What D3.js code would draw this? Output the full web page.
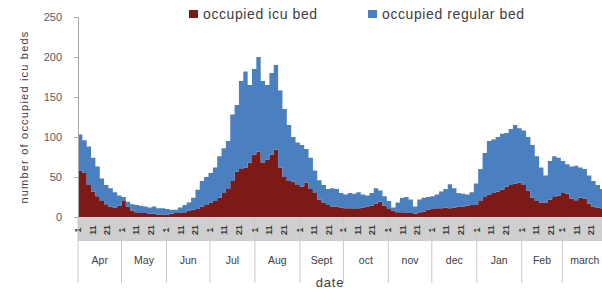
<!DOCTYPE html>
<html>
<head>
<meta charset="utf-8">
<title>occupied beds</title>
<script src="https://cdn.jsdelivr.net/npm/d3@7"></script>
<style>
    body{
        margin:0;
        background:#fff;
        font-family:"Liberation Sans", Arial, sans-serif;
    }
    .axis text{
        fill:#595959;
    }
</style>
</head>
<body>
<div id="chart"></div>
<script>
    // values read every 3 days, starting 1 Apr 2020
    var icuBeds = [58,55,40,32,26,20,16,13,12,14,20,13,8,6,5,5,4,4,3,3,3,4,5,5,6,8,9,10,13,15,
        18,20,24,30,35,45,57,60,62,68,78,82,68,72,78,84,62,50,45,44,40,38,43,35,30,22,18,15,13,13,
        12,11,11,10,11,12,13,14,17,19,14,10,8,6,6,5,5,4,6,7,9,10,11,11,12,11,12,13,13,14,
        15,15,20,25,28,30,32,34,38,40,42,43,40,33,24,20,18,18,22,25,27,30,29,23,21,24,23,17,13,12,11,10]
    var regularBeds = [45,41,48,42,37,28,24,23,19,13,5,6,8,9,9,8,8,9,8,8,7,5,4,7,9,10,15,24,32,35,
        37,42,52,56,60,83,83,110,120,97,107,118,102,93,102,106,96,85,70,56,53,52,42,39,28,24,22,20,23,22,
        18,17,19,19,20,16,14,16,19,14,12,10,4,12,18,20,17,9,16,17,16,16,17,21,23,30,24,17,16,14,
        16,27,40,55,67,67,68,70,67,70,73,68,68,67,66,56,44,34,48,51,47,40,37,40,43,38,37,35,32,28,24,23]
    var seriesNames = ["occupied icu bed","occupied regular bed"]
    var colors = ["#7b1a16","#4a7fc0"]
    var monthNames = ["Apr","May","Jun","Jul","Aug","Sept","oct","nov","dec","Jan","Feb","march"]
    var dayTicks = [1,11,21]
    var yTicks = [0,50,100,150,200,250]

    var width = 602, height = 291
    var marginLeft = 78, plotTop = 17, plotBottom = 217
    var startDate = new Date(2020,3,1)
    var endDate = new Date(2021,3,1)

    var svg = d3.select("#chart").append("svg").attr("width",width).attr("height",height)

    var x = d3.scaleTime().domain([startDate,endDate]).range([marginLeft, marginLeft + 365*1.45])
    var y = d3.scaleLinear().domain([0,250]).range([plotBottom, plotTop])

    var data = icuBeds.map(function(v,i){
        return {date:d3.timeDay.offset(startDate,i*3), icu:v, regular:regularBeds[i]}
    })
    // repeat last step so the final block has a width
    data.push({date:d3.timeDay.offset(startDate,icuBeds.length*3), icu:icuBeds[icuBeds.length-1], regular:regularBeds[regularBeds.length-1]})

    var stack = d3.stack().keys(["icu","regular"])
    var layers = stack(data)

    var area = d3.area()
        .curve(d3.curveStepAfter)
        .x(function(d){ return x(d.data.date) })
        .y0(function(d){ return y(d[0]) })
        .y1(function(d){ return y(d[1]) })

    svg.append("clipPath").attr("id","clip")
        .append("rect").attr("x",marginLeft).attr("y",0).attr("width",width-marginLeft).attr("height",plotBottom)

    svg.append("g").attr("clip-path","url(#clip)")
        .selectAll("path")
        .data(layers)
        .enter().append("path")
        .attr("d",area)
        .attr("fill",function(d,i){ return colors[i] })

    // y axis
    var yAxis = d3.axisLeft(y).tickValues(yTicks).tickSize(4).tickPadding(12)
    var gy = svg.append("g").attr("class","axis").attr("transform","translate(" + marginLeft + ",0)").call(yAxis)
    gy.select(".domain").attr("stroke","#a6a6a6")
    gy.selectAll(".tick line").attr("stroke","#a6a6a6")
    gy.selectAll("text").style("font-size","11px")

    svg.append("text")
        .attr("transform","translate(28,117) rotate(-90)")
        .attr("text-anchor","middle")
        .style("font-size","11px")
        .style("letter-spacing","1.2px")
        .attr("fill","#404040")
        .text("number of occupied icu beds")

    // category axis: grey band with day numbers
    svg.append("rect").attr("x",marginLeft).attr("y",plotBottom+2).attr("width",width-marginLeft).attr("height",22).attr("fill","#cfcfcf")
    svg.append("line").attr("x1",marginLeft).attr("x2",width).attr("y1",plotBottom+1).attr("y2",plotBottom+1).attr("stroke","#a6a6a6")

    var months = d3.timeMonth.range(startDate,endDate)
    var dayDates = []
    months.forEach(function(m){
        dayTicks.forEach(function(dd){ dayDates.push(new Date(m.getFullYear(),m.getMonth(),dd)) })
    })
    svg.selectAll(".dayLabel")
        .data(dayDates)
        .enter().append("text")
        .attr("class","dayLabel")
        .attr("transform",function(d){ return "translate(" + (x(d)+3) + "," + (plotBottom+13) + ") rotate(-90)" })
        .attr("text-anchor","middle")
        .style("font-size","9px")
        .style("font-weight","bold")
        .attr("fill","#3a3a3a")
        .text(function(d){ return d.getDate() })

    svg.selectAll(".monthLine")
        .data(months.concat([endDate]))
        .enter().append("line")
        .attr("x1",function(d){ return x(d) }).attr("x2",function(d){ return x(d) })
        .attr("y1",plotBottom+2).attr("y2",283)
        .attr("stroke","#c8c8c8")

    svg.selectAll(".monthLabel")
        .data(months)
        .enter().append("text")
        .attr("x",function(d,i){ return (x(d) + x(d3.timeMonth.offset(d,1)))/2 })
        .attr("y",264)
        .attr("text-anchor","middle")
        .style("font-size","10.5px")
        .attr("fill","#404040")
        .text(function(d,i){ return monthNames[i] })

    svg.append("text")
        .attr("x",330).attr("y",287)
        .attr("text-anchor","middle")
        .style("font-size","13px")
        .style("letter-spacing","0.8px")
        .attr("fill","#404040")
        .text("date")

    // legend
    var legendX = [189,368]
    var legend = svg.selectAll(".legend")
        .data(seriesNames)
        .enter().append("g")
        .attr("transform",function(d,i){ return "translate(" + legendX[i] + ",10)" })
    legend.append("rect").attr("width",9).attr("height",8).attr("fill",function(d,i){ return colors[i] })
    legend.append("text").attr("x",14).attr("y",9)
        .style("font-size","14px")
        .style("letter-spacing","0.6px")
        .attr("fill","#404040")
        .text(function(d){ return d })
</script>
</body>
</html>
